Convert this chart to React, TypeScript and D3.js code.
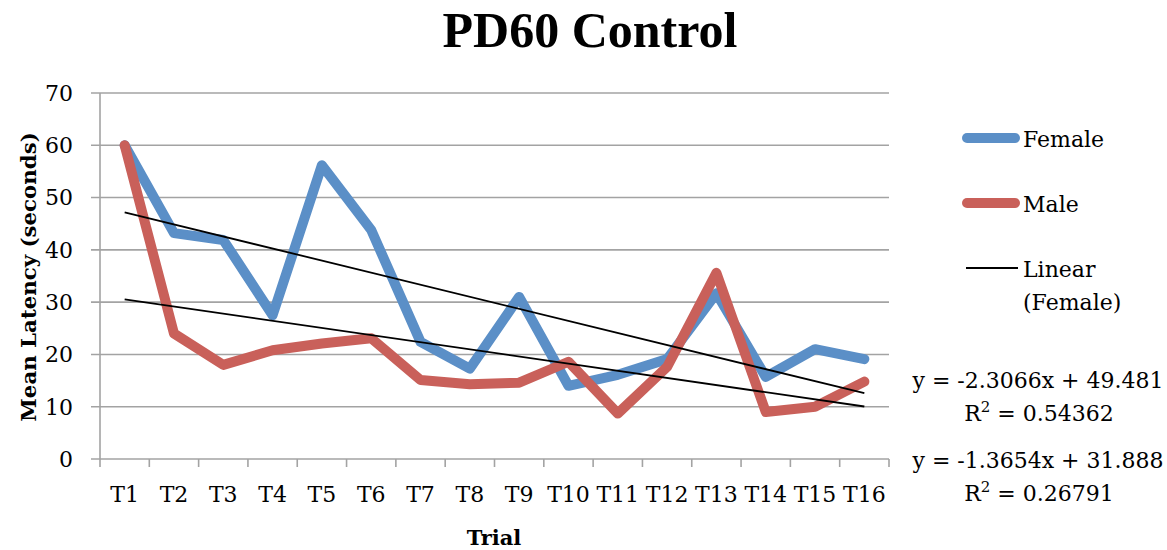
import React from "react";
import * as d3 from "d3";

const trials = ["T1", "T2", "T3", "T4", "T5", "T6", "T7", "T8", "T9", "T10", "T11", "T12", "T13", "T14", "T15", "T16"];
const female = [60, 43.2, 41.9, 27.5, 56.2, 43.8, 22.4, 17.3, 31.0, 14.0, 16.1, 19.1, 31.7, 15.7, 21.0, 19.1];
const male = [60, 24.0, 18.0, 20.8, 22.1, 23.1, 15.1, 14.3, 14.6, 18.6, 8.7, 17.6, 35.6, 9.0, 10.0, 14.8];
const yTicks = [0, 10, 20, 30, 40, 50, 60, 70];
// trend line coefficients as printed on the chart
const femaleFit = { slope: -2.3066, intercept: 49.481, r2: "0.54362" };
const maleFit = { slope: -1.3654, intercept: 31.888, r2: "0.26791" };

const W = 1167;
const H = 550;
const FONT = "'DejaVu Serif', serif";
const TITLE_FONT = "'Liberation Serif', 'Times New Roman', serif";
const BLUE = "#5b8fc7";
const RED = "#c9605a";
const GRID = "#a3a3a3";

export default function App() {
  const left = 100, right = 889, top = 93, bottom = 459;
  const x = d3.scaleBand<string>().domain(trials).range([left, right]);
  const cx = (t: string) => (x(t) as number) + x.bandwidth() / 2;
  const y = d3.scaleLinear().domain([0, 70]).range([bottom, top]);

  const line = d3
    .line<number>()
    .x((_, i) => cx(trials[i]))
    .y((d) => y(d));

  const trend = (fit: { slope: number; intercept: number }) => {
    const a = fit.intercept + fit.slope * 1;
    const b = fit.intercept + fit.slope * trials.length;
    return { x1: cx(trials[0]), y1: y(a), x2: cx(trials[trials.length - 1]), y2: y(b) };
  };
  const tf = trend(femaleFit);
  const tm = trend(maleFit);

  const tickX = [...trials.map((t) => x(t) as number), right];

  return (
    <svg width={W} height={H} style={{ position: "absolute", left: 0, top: 0, background: "#fff" }} fontFamily={FONT}>
      <text x={590} y={47} textAnchor="middle" fontSize={50} fontWeight="bold" fill="#000" fontFamily={TITLE_FONT}>
        PD60 Control
      </text>

      {/* gridlines and y ticks */}
      {yTicks.map((v) => (
        <g key={v}>
          <line x1={left - 9} x2={right} y1={y(v)} y2={y(v)} stroke={GRID} strokeWidth={1.6} />
          <text x={73} y={y(v)} dy="0.36em" textAnchor="end" fontSize={22} fill="#000">
            {v}
          </text>
        </g>
      ))}
      <line x1={left} x2={left} y1={top} y2={bottom} stroke={GRID} strokeWidth={1.6} />
      {tickX.map((tx, i) => (
        <line key={i} x1={tx} x2={tx} y1={bottom} y2={bottom + 8} stroke={GRID} strokeWidth={1.6} />
      ))}
      {trials.map((t) => (
        <text key={t} x={cx(t)} y={502} textAnchor="middle" fontSize={22} fill="#000">
          {t}
        </text>
      ))}

      <text x={494} y={545} textAnchor="middle" fontSize={21} fontWeight="bold">
        Trial
      </text>
      <text
        transform={`translate(36,${(top + bottom) / 2 + 1}) rotate(-90)`}
        textAnchor="middle"
        fontSize={21.3}
        fontWeight="bold"
      >
        Mean Latency (seconds)
      </text>

      <path d={line(female) || ""} fill="none" stroke={BLUE} strokeWidth={10} strokeLinejoin="round" strokeLinecap="round" />
      <path d={line(male) || ""} fill="none" stroke={RED} strokeWidth={10} strokeLinejoin="round" strokeLinecap="round" />
      <line {...tf} stroke="#000" strokeWidth={1.8} />
      <line {...tm} stroke="#000" strokeWidth={1.8} />

      {/* legend */}
      <line x1={967} x2={1015} y1={138} y2={138} stroke={BLUE} strokeWidth={10} strokeLinecap="round" />
      <text x={1023} y={147} fontSize={22}>Female</text>
      <line x1={967} x2={1015} y1={203} y2={203} stroke={RED} strokeWidth={10} strokeLinecap="round" />
      <text x={1023} y={212} fontSize={22}>Male</text>
      <line x1={966} x2={1018} y1={268} y2={268} stroke="#000" strokeWidth={1.8} />
      <text x={1023} y={277} fontSize={22}>Linear</text>
      <text x={1023} y={310} fontSize={22}>(Female)</text>

      {/* trend equations */}
      {[
        { fit: femaleFit, y0: 388 },
        { fit: maleFit, y0: 468 },
      ].map(({ fit, y0 }) => (
        <g key={y0} fontSize={22} textAnchor="middle">
          <text x={1038} y={y0}>
            {`y = ${fit.slope}x + ${fit.intercept}`}
          </text>
          <text x={1039} y={y0 + 33}>
            R<tspan dy="-9" fontSize={15}>2</tspan>
            <tspan dy="9">{` = ${fit.r2}`}</tspan>
          </text>
        </g>
      ))}
    </svg>
  );
}
